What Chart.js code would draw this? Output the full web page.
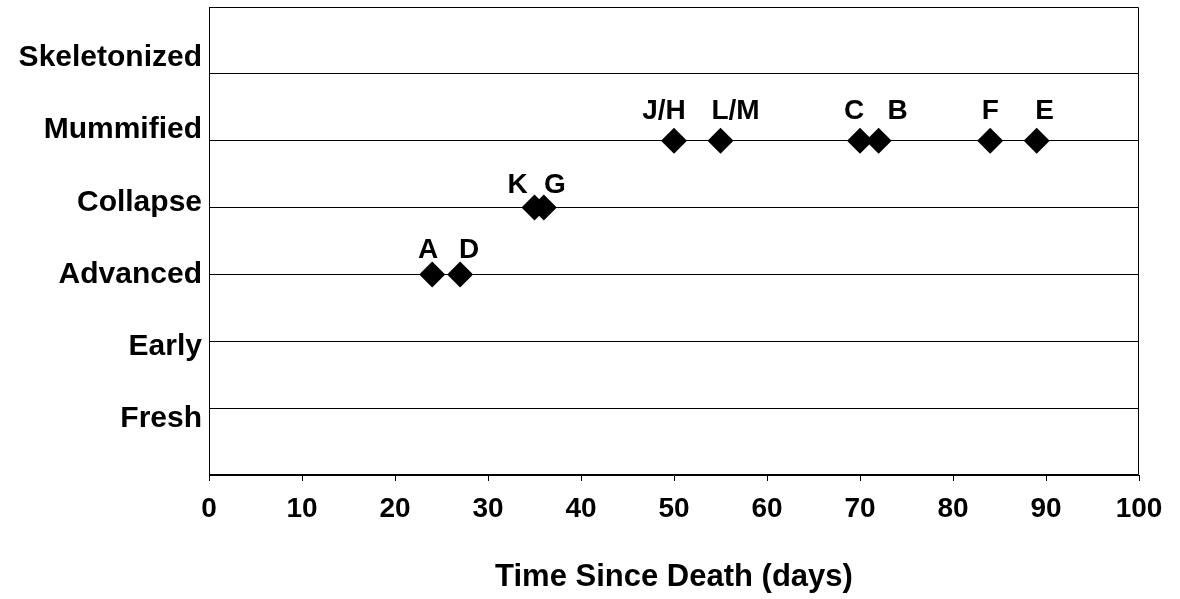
<!DOCTYPE html>
<html>
<head>
<meta charset="utf-8">
<script src="https://cdn.jsdelivr.net/npm/chart.js@4"></script>
<style>
  html, body { margin: 0; padding: 0; background: #fff; }
  #wrap { width: 1180px; height: 599px; }
</style>
</head>
<body>
<div id="wrap"><canvas id="c" width="1180" height="599"></canvas></div>
<script>
// ---- data ----
const stageNames = ['', 'Fresh', 'Early', 'Advanced', 'Collapse', 'Mummified', 'Skeletonized', ''];
const stageLevels = [1, 2, 3, 4, 5, 6];
const pointLabels = ['A', 'D', 'K', 'G', 'J/H', 'L/M', 'C', 'B', 'F', 'E'];
const daysSinceDeath = [24, 27, 35, 36, 50, 55, 70, 72, 84, 89];
const stageIndex = [3, 3, 4, 4, 5, 5, 5, 5, 5, 5];
const xTicks = [0, 10, 20, 30, 40, 50, 60, 70, 80, 90, 100];
// label offsets (pixels) relative to their point
const labelDx = [-4, 9, -17, 11, -10, 15, -6, 19, 0, 8];
const labelDy = [-24, -24, -22, -22, -29, -29, -29, -29, -29, -29];

const FONT = "'Liberation Sans', Arial, Helvetica, sans-serif";

const points = daysSinceDeath.map((d, i) => ({ x: d, y: stageIndex[i] }));

const frame = {
  id: 'frame',
  afterDatasetsDraw(chart) {
    const a = chart.chartArea, ctx = chart.ctx;
    ctx.save();
    ctx.strokeStyle = '#000';
    ctx.lineWidth = 1;
    const l = Math.round(a.left) + 0.5, r = Math.round(a.right) - 0.5;
    const t = Math.round(a.top) + 0.5, b = Math.round(a.bottom) - 0.5;
    ctx.beginPath();
    ctx.moveTo(l, t); ctx.lineTo(r, t); ctx.lineTo(r, b); ctx.lineTo(l, b); ctx.closePath();
    ctx.stroke();
    ctx.restore();
  }
};

const labelsPlugin = {
  id: 'ptLabels',
  afterDatasetsDraw(chart) {
    const meta = chart.getDatasetMeta(0), ctx = chart.ctx;
    ctx.save();
    ctx.font = "bold 28px " + FONT;
    ctx.fillStyle = '#000';
    ctx.textAlign = 'center';
    ctx.textBaseline = 'middle';
    meta.data.forEach((el, i) => {
      ctx.fillText(pointLabels[i], el.x + labelDx[i], el.y + labelDy[i]);
    });
    ctx.restore();
  }
};

function noPad(scale) { scale.paddingTop = 0; scale.paddingBottom = 0; }

new Chart(document.getElementById('c'), {
  type: 'scatter',
  data: {
    datasets: [{
      data: points,
      pointStyle: 'rectRot',
      pointRadius: 13,
      pointHoverRadius: 13,
      backgroundColor: '#000',
      borderColor: '#000',
      borderWidth: 0,
      showLine: false
    }]
  },
  options: {
    responsive: false,
    animation: false,
    devicePixelRatio: 1,
    layout: { autoPadding: false, padding: { left: 0, right: 41, top: 7, bottom: 0 } },
    plugins: { legend: { display: false }, tooltip: { enabled: false } },
    scales: {
      x: {
        type: 'linear',
        min: 0, max: 100,
        afterBuildTicks(scale) { scale.ticks = xTicks.map(v => ({ value: v })); },
        afterFit(scale) { scale.height = 124; },
        grid: { drawOnChartArea: false, drawTicks: true, tickLength: 6, color: '#000', lineWidth: 1 },
        border: { display: true, color: '#000', width: 1 },
        ticks: {
          color: '#000',
          padding: 11,
          maxRotation: 0,
          font: { family: FONT, size: 28, weight: 'bold' }
        },
        title: {
          display: true,
          text: 'Time Since Death (days)',
          color: '#000',
          font: { family: FONT, size: 31, weight: 'bold' },
          padding: { top: 4, bottom: 3 }
        }
      },
      // grid axis (stage levels)
      y: {
        type: 'linear',
        position: 'left',
        min: 0, max: 7,
        afterBuildTicks(scale) { scale.ticks = stageLevels.map(v => ({ value: v })); },
        afterFit(scale) { scale.width = 0; noPad(scale); },
        grid: { drawTicks: false, tickLength: 0, color: '#000', lineWidth: 1 },
        border: { display: false },
        ticks: { display: false }
      },
      // label axis (stage names, spaced as in the original figure)
      yNames: {
        type: 'linear',
        position: 'left',
        min: 0.224, max: 6.706,
        afterBuildTicks(scale) { scale.ticks = stageLevels.map(v => ({ value: v })); },
        afterFit(scale) { scale.width = 209; noPad(scale); },
        grid: { display: false, drawTicks: false, tickLength: 0 },
        border: { display: true, color: '#000', width: 1 },
        ticks: {
          color: '#000',
          padding: 7,
          font: { family: FONT, size: 30, weight: 'bold' },
          callback: (v) => stageNames[v]
        }
      }
    }
  },
  plugins: [frame, labelsPlugin]
});
</script>
</body>
</html>
